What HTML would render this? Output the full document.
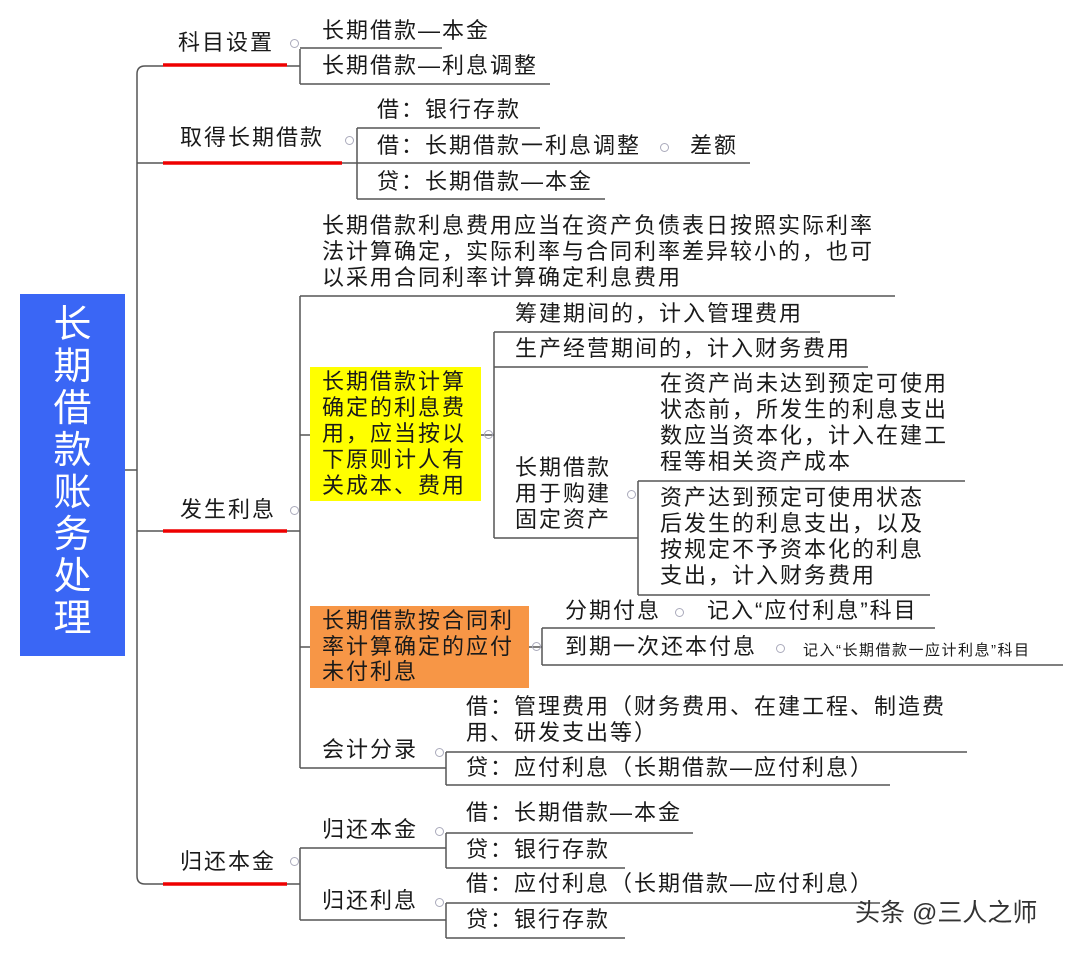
<!DOCTYPE html>
<html><head><meta charset="utf-8"><style>
body{margin:0;width:1080px;height:954px;background:#fff;position:relative;overflow:hidden;font-family:"Liberation Sans","Noto Sans CJK SC",sans-serif;color:#1a1a1a}
.t{position:absolute;font-size:22px;letter-spacing:2px;line-height:26px;white-space:nowrap}
.c{position:absolute;width:7px;height:7px;border:1px solid #aab;border-radius:50%;}
</style></head><body>
<svg width="1080" height="954" style="position:absolute;left:0;top:0" fill="none">
<g stroke="#555" stroke-width="1.5">
<path d="M125 470H137"/>
<path d="M163 66H145Q137 66 137 74V876Q137 884 145 884H163"/>
<path d="M137 163H163M137 531H163"/>
<path d="M287 66H300M300 49V84M300 48H442M300 84H550"/>
<path d="M342 163H357M357 128V199M357 128H540M357 163H750M357 199H605"/>
<path d="M287 531H300M300 296V768M300 296H895M300 435H310M300 647H310M300 768H446"/>
<path d="M481 435H494M494 332V538M494 332H820M494 367H868M494 538H638M638 481V595M638 481H965M638 595H930"/>
<path d="M529 647H542M542 628V665M542 628H935M542 665H1063"/>
<path d="M446 752V785M446 752H967M446 785H890"/>
<path d="M287 884H300M300 848V920M300 848H446M300 920H446M446 833V868M446 833H693M446 868H625M446 903V938M446 903H880M446 938H625"/>
</g>
<g stroke="#e00" stroke-width="3.5">
<path d="M163 65H287M163 163H342M163 531H287M163 884H287"/>
</g>
</svg>
<div style="position:absolute;left:20px;top:294px;width:105px;height:362px;background:#3a66f5"></div>
<div style="position:absolute;left:20px;top:304px;width:105px;color:#fff;font-size:38px;line-height:42px;text-align:center">长<br>期<br>借<br>款<br>账<br>务<br>处<br>理</div>
<div style="position:absolute;left:310px;top:367px;width:171px;height:134px;background:#ffff00"></div>
<div style="position:absolute;left:310px;top:606px;width:219px;height:82px;background:#f79646"></div>

<div class="t" style="left:178px;top:30px">科目设置</div>
<div class="t" style="left:322px;top:18px">长期借款—本金</div>
<div class="t" style="left:322px;top:53px">长期借款—利息调整</div>
<div class="t" style="left:180px;top:125px">取得长期借款</div>
<div class="t" style="left:377px;top:97px">借：银行存款</div>
<div class="t" style="left:377px;top:133px">借：长期借款一利息调整</div>
<div class="t" style="left:690px;top:133px">差额</div>
<div class="t" style="left:377px;top:169px">贷：长期借款—本金</div>
<div class="t" style="left:322px;top:213px">长期借款利息费用应当在资产负债表日按照实际利率<br>法计算确定，实际利率与合同利率差异较小的，也可<br>以采用合同利率计算确定利息费用</div>
<div class="t" style="left:180px;top:497px">发生利息</div>
<div class="t" style="left:322px;top:369px">长期借款计算<br>确定的利息费<br>用，应当按以<br>下原则计人有<br>关成本、费用</div>
<div class="t" style="left:515px;top:301px">筹建期间的，计入管理费用</div>
<div class="t" style="left:515px;top:336px">生产经营期间的，计入财务费用</div>
<div class="t" style="left:515px;top:455px">长期借款<br>用于购建<br>固定资产</div>
<div class="t" style="left:660px;top:371px">在资产尚未达到预定可使用<br>状态前，所发生的利息支出<br>数应当资本化，计入在建工<br>程等相关资产成本</div>
<div class="t" style="left:660px;top:485px">资产达到预定可使用状态<br>后发生的利息支出，以及<br>按规定不予资本化的利息<br>支出，计入财务费用</div>
<div class="t" style="left:322px;top:608px;line-height:25.5px">长期借款按合同利<br>率计算确定的应付<br>未付利息</div>
<div class="t" style="left:565px;top:598px">分期付息</div>
<div class="t" style="left:707px;top:598px">记入“应付利息”科目</div>
<div class="t" style="left:565px;top:634px">到期一次还本付息</div>
<div class="t" style="left:803px;top:641px;font-size:15px;letter-spacing:1.5px;line-height:20px">记入“长期借款一应计利息”科目</div>
<div class="t" style="left:322px;top:737px">会计分录</div>
<div class="t" style="left:466px;top:694px">借：管理费用（财务费用、在建工程、制造费<br>用、研发支出等）</div>
<div class="t" style="left:466px;top:755px">贷：应付利息（长期借款—应付利息）</div>
<div class="t" style="left:180px;top:849px">归还本金</div>
<div class="t" style="left:322px;top:817px">归还本金</div>
<div class="t" style="left:466px;top:800px">借：长期借款—本金</div>
<div class="t" style="left:466px;top:837px">贷：银行存款</div>
<div class="t" style="left:322px;top:888px">归还利息</div>
<div class="t" style="left:466px;top:871px">借：应付利息（长期借款—应付利息）</div>
<div class="t" style="left:466px;top:907px">贷：银行存款</div>
<div class="t" style="left:855px;top:900px;font-size:25px;letter-spacing:0;color:#333">头条 @三人之师</div>

<div class="c" style="left:290px;top:39px"></div>
<div class="c" style="left:345px;top:136px"></div>
<div class="c" style="left:660px;top:143px"></div>
<div class="c" style="left:290px;top:506px"></div>
<div class="c" style="left:484px;top:430px"></div>
<div class="c" style="left:627px;top:490px"></div>
<div class="c" style="left:532px;top:642px"></div>
<div class="c" style="left:675px;top:608px"></div>
<div class="c" style="left:776px;top:644px"></div>
<div class="c" style="left:435px;top:748px"></div>
<div class="c" style="left:290px;top:857px"></div>
<div class="c" style="left:435px;top:827px"></div>
<div class="c" style="left:435px;top:898px"></div>
</body></html>
